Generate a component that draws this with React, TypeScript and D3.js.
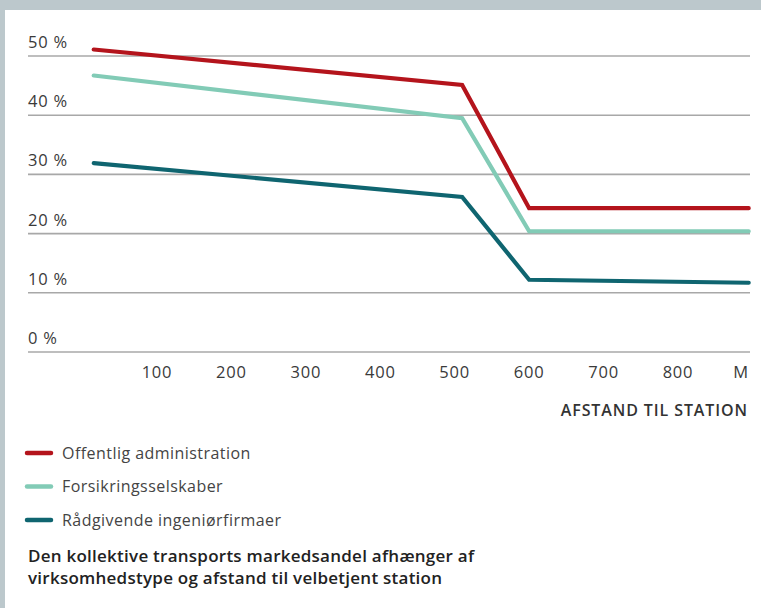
import React from "react";
import * as d3 from "d3";

const distances = [15, 510, 600, 895];
const offentlig = [51.1, 45.1, 24.3, 24.3];
const forsikring = [46.7, 39.5, 20.4, 20.4];
const raadgivende = [31.9, 26.2, 12.2, 11.7];
const seriesNames = ["Offentlig administration", "Forsikringsselskaber", "Rådgivende ingeniørfirmaer"];
const seriesColors = ["#b4141c", "#82cbb6", "#0f6570"];
const yTicks = [0, 10, 20, 30, 40, 50];
const xTicks = [100, 200, 300, 400, 500, 600, 700, 800];
const xUnitLabel = "M";
const xTitle = "AFSTAND TIL STATION";
const captionLines = [
  "Den kollektive transports markedsandel afhænger af",
  "virksomhedstype og afstand til velbetjent station",
];

export default function App() {
  const W = 761, H = 608;
  const x = d3.scaleLinear().domain([100, 800]).range([157, 678]);
  const y = d3.scaleLinear().domain([0, 50]).range([352, 56]);
  const allSeries = [offentlig, forsikring, raadgivende];
  const line = d3
    .line<[number, number]>()
    .x((d) => x(d[0]))
    .y((d) => y(d[1]));
  const font = "'Open Sans', 'Noto Sans', sans-serif";
  return (
    <svg width={W} height={H} style={{ position: "absolute", left: 0, top: 0, display: "block" }}>
      <rect x={0} y={0} width={W} height={H} fill="#bcc8cc" />
      <rect x={5} y={10} width={W - 5} height={H - 10} fill="#ffffff" />
      {yTicks.map((t) => (
        <g key={t}>
          <line x1={28} x2={750} y1={y(t)} y2={y(t)} stroke="#a8a8a8" strokeWidth={1.6} />
          <text x={28} y={y(t) - 8} fontFamily={font} fontSize={16.5} fill="#3a3a3a" letterSpacing={0.8}>
            {t} %
          </text>
        </g>
      ))}
      {xTicks.map((t) => (
        <text key={t} x={x(t)} y={378} textAnchor="middle" fontFamily={font} fontSize={16.5} fill="#3a3a3a" letterSpacing={0.8}>
          {t}
        </text>
      ))}
      <text x={748} y={378} textAnchor="end" fontFamily={font} fontSize={16.5} fill="#3a3a3a">
        {xUnitLabel}
      </text>
      <text x={748} y={416} textAnchor="end" fontFamily={font} fontSize={16} fontWeight={600} fill="#333" letterSpacing={0.9}>
        {xTitle}
      </text>
      {allSeries.map((s, i) => (
        <path
          key={i}
          d={line(s.map((v, j) => [distances[j], v] as [number, number])) || ""}
          fill="none"
          stroke={seriesColors[i]}
          strokeWidth={4.2}
          strokeLinecap="round"
          strokeLinejoin="miter"
        />
      ))}
      {seriesNames.map((n, i) => (
        <g key={n}>
          <line x1={27} x2={51} y1={453 + i * 33.5} y2={453 + i * 33.5} stroke={seriesColors[i]} strokeWidth={4.5} strokeLinecap="round" />
          <text x={62} y={458.5 + i * 33.5} fontFamily={font} fontSize={16} fill="#444" letterSpacing={0.45}>
            {n}
          </text>
        </g>
      ))}
      {captionLines.map((c, i) => (
        <text key={i} x={28} y={562 + i * 22} fontFamily={font} fontSize={17} fontWeight={600} fill="#222" letterSpacing={0.25}>
          {c}
        </text>
      ))}
    </svg>
  );
}
